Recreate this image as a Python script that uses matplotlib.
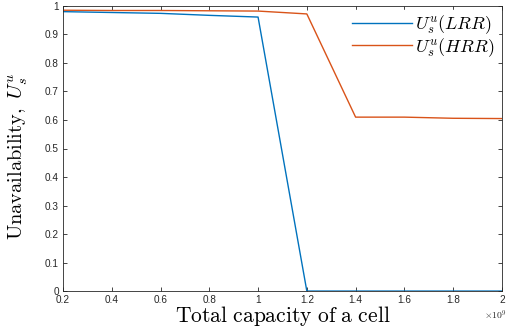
import numpy as np
import matplotlib
matplotlib.use("Agg")
import matplotlib.pyplot as plt
from matplotlib.ticker import FuncFormatter

# data
capacity = [0.2e9, 0.4e9, 0.6e9, 0.8e9, 1.0e9, 1.2e9, 1.4e9, 1.6e9, 1.8e9, 2.0e9]
u_lrr = [0.980, 0.977, 0.974, 0.967, 0.961, 0.0, 0.0, 0.0, 0.0, 0.0]
u_hrr = [0.985, 0.984, 0.984, 0.983, 0.982, 0.972, 0.610, 0.610, 0.606, 0.605]

plt.rcParams['mathtext.fontset'] = 'cm'
plt.rcParams['font.family'] = ['Liberation Sans', 'DejaVu Sans']

fig = plt.figure(figsize=(5.08, 3.30), dpi=100)
ax = fig.add_axes([0.124, 0.118, 0.864, 0.864])

ax.plot(capacity, u_lrr, color='#0072BD', lw=1.0, label=r'$U_s^u(LRR)$')
ax.plot(capacity, u_hrr, color='#D95319', lw=1.0, label=r'$U_s^u(HRR)$')

ax.set_xlim(0.2e9, 2.0e9)
ax.set_ylim(0, 1)
ax.set_xticks(np.arange(0.2e9, 2.01e9, 0.2e9))
ax.set_yticks(np.arange(0, 1.01, 0.1))
ax.set_yticklabels(['0', '0.1', '0.2', '0.3', '0.4', '0.5', '0.6', '0.7', '0.8', '0.9', '1'])
ax.xaxis.set_major_formatter(FuncFormatter(lambda v, p: '%g' % round(v / 1e9, 1)))
ax.text(0.985, -0.085, r'$\times10^9$', transform=ax.transAxes, ha='center', va='center',
        fontsize=7, color='#262626')

ax.tick_params(direction='in', length=3, width=0.6, labelsize=7.2, colors='#262626',
               top=True, right=True, pad=3)
for s in ax.spines.values():
    s.set_linewidth(0.6)
    s.set_color('#262626')

ax.set_xlabel(r'$\mathrm{Total\ capacity\ of\ a\ cell}$', fontsize=15.5, labelpad=-1)
ax.set_ylabel(r'$\mathrm{Unavailability,}\ U_s^u$', fontsize=14.7)
ax.yaxis.set_label_coords(-0.075, 0.474)

leg = ax.legend(loc='upper right', fontsize=13, frameon=True, fancybox=False,
                edgecolor='white', framealpha=1, borderaxespad=0.2, handlelength=3.3,
                labelspacing=0.0, borderpad=0.2, handletextpad=0.2)

fig.savefig('out.png', dpi=100)
